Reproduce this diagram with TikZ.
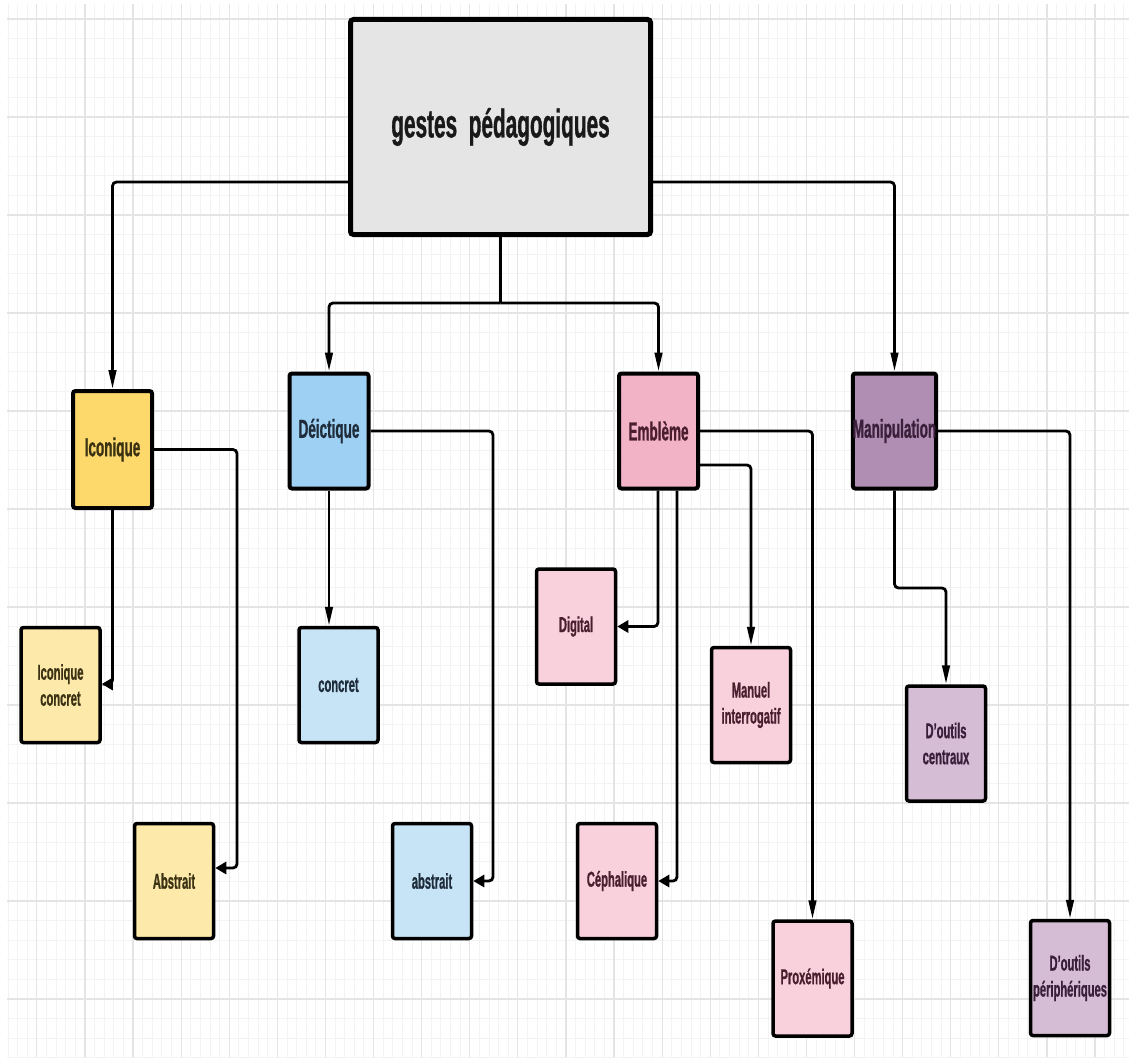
\documentclass[tikz,border=0pt]{standalone}
\usepackage{fontspec}
\setmainfont{Liberation Sans}[FakeStretch=0.52, FakeBold=0.8]
\usetikzlibrary{arrows.meta,calc}

% fills and text colours
\definecolor{mainfill}{HTML}{E5E5E5}
\definecolor{icofill}{HTML}{FDD96B}
\definecolor{icolight}{HTML}{FDE9A9}
\definecolor{icotext}{HTML}{3B3214}
\definecolor{deifill}{HTML}{9DD0F2}
\definecolor{deilight}{HTML}{C6E4F6}
\definecolor{deitext}{HTML}{1F2C3B}
\definecolor{embfill}{HTML}{F3B3C7}
\definecolor{emblight}{HTML}{F9D1DD}
\definecolor{embtext}{HTML}{4A1E2E}
\definecolor{manfill}{HTML}{B08DB3}
\definecolor{manlight}{HTML}{D5BDD5}
\definecolor{mantext}{HTML}{3A1F3A}
\definecolor{gridminor}{HTML}{F3F3F3}
\definecolor{gridmajor}{HTML}{E4E4E4}

\tikzset{
  gbox/.style={draw=black, line width=4pt, rounded corners=2.5pt, inner sep=0pt,
    align=center, minimum width=79pt, minimum height=115pt},
  topbox/.style={gbox, font=\fontsize{26}{31}\selectfont\bfseries},
  leafbox/.style={gbox, line width=3.5pt, font=\fontsize{21.5}{26}\selectfont\bfseries},
  wire/.style={draw=black, line width=2.8pt, rounded corners=4pt},
  downarrow/.style={wire, -{Triangle[length=19pt,width=7.5pt]}},
  leftarrow/.style={wire, -{Triangle[length=11pt,width=12pt]}},
  gminor/.style={draw=gridminor, line width=0.8pt},
  gmajor/.style={draw=gridmajor, line width=1.2pt}
}

\begin{document}
\begin{tikzpicture}[x=1pt, y=-1pt]
  % canvas and grid
  \fill[white] (0,0) rectangle (1129,1057);
  \useasboundingbox (0,0) rectangle (1129,1057);
  \foreach \k in {-13,...,103} {
    \pgfmathsetmacro\xx{133+9.62*\k}
    \draw[gminor] (\xx,4) -- (\xx,1057);
  }
  \foreach \k in {0,...,53} {
    \pgfmathsetmacro\yy{19+19.6*\k}
    \draw[gminor] (7,\yy) -- (1129,\yy);
  }
  \foreach \k in {-2,...,20} {
    \pgfmathsetmacro\xx{133+48.1*\k}
    \draw[gmajor] (\xx,4) -- (\xx,1057);
  }
  \foreach \k in {0,...,10} {
    \pgfmathsetmacro\yy{19+98*\k}
    \draw[gmajor] (7,\yy) -- (1129,\yy);
  }

  % root
  \node[draw=black, line width=5pt, rounded corners=3pt, fill=mainfill,
        minimum width=300pt, minimum height=215pt, inner sep=0pt,
        font=\fontsize{40}{48}\selectfont\bfseries, text=black!90]
        (main) at (500.5,127) {gestes~~pédagogiques};

  % first level
  \node[topbox, fill=icofill, text=icotext, minimum height=117pt] (ico) at (112.5,449.5) {Iconique};
  \node[topbox, fill=deifill, text=deitext] (dei) at (329,431) {Déictique};
  \node[topbox, fill=embfill, text=embtext] (emb) at (658.5,431) {Emblème};
  \node[topbox, fill=manfill, text=mantext] (man) at (894.5,431) {Manipulation};

  % leaves
  \node[leafbox, fill=icolight, text=icotext] (icc) at (60.5,685) {Iconique\\concret};
  \node[leafbox, fill=icolight, text=icotext] (abs1) at (174,881) {Abstrait};
  \node[leafbox, fill=deilight, text=deitext] (con) at (338.5,685) {concret};
  \node[leafbox, fill=deilight, text=deitext] (abs2) at (432,881) {abstrait};
  \node[leafbox, fill=emblight, text=embtext] (dig) at (576,626.5) {Digital};
  \node[leafbox, fill=emblight, text=embtext] (manu) at (751,705) {Manuel\\interrogatif};
  \node[leafbox, fill=emblight, text=embtext] (cep) at (617,881) {Céphalique};
  \node[leafbox, fill=emblight, text=embtext] (prox) at (812.5,978.5) {Proxémique};
  \node[leafbox, fill=manlight, text=mantext] (cen) at (946,743.5) {D'outils\\centraux};
  \node[leafbox, fill=manlight, text=mantext] (per) at (1070,978) {D'outils\\périphériques};

  % root to first level
  \coordinate (split) at (main.south |- 0,303);
  \draw[downarrow] (main.west |- 0,182) -| (ico.north);
  \draw[downarrow] (main.east |- 0,182) -| (man.north);
  \draw[wire] (main.south) -- (split);
  \draw[downarrow] (split) -| (dei.north);
  \draw[downarrow] (split) -| (emb.north);

  % Iconique
  \draw[leftarrow] (ico.south) |- (icc.east |- 0,684);
  \draw[leftarrow] (ico.east) -| (237,868) -- (abs1.east |- 0,868);

  % Deictique
  \draw[downarrow] (dei.south) -- (dei.south |- con.north);
  \draw[leftarrow] (dei.east) -| (abs2.east -| 493,0) -- (abs2.east);

  % Embleme
  \draw[leftarrow] (emb.south -| 658,0) |- (dig.east);
  \draw[leftarrow] (emb.south -| 677,0) |- (cep.east);
  \draw[downarrow] (emb.east |- 0,465) -| (manu.north);
  \draw[downarrow] (emb.east) -| (prox.north);

  % Manipulation
  \draw[downarrow] (man.south) -- (man.south |- 0,588) -| (cen.north);
  \draw[downarrow] (man.east) -| (per.north);
\end{tikzpicture}
\end{document}
